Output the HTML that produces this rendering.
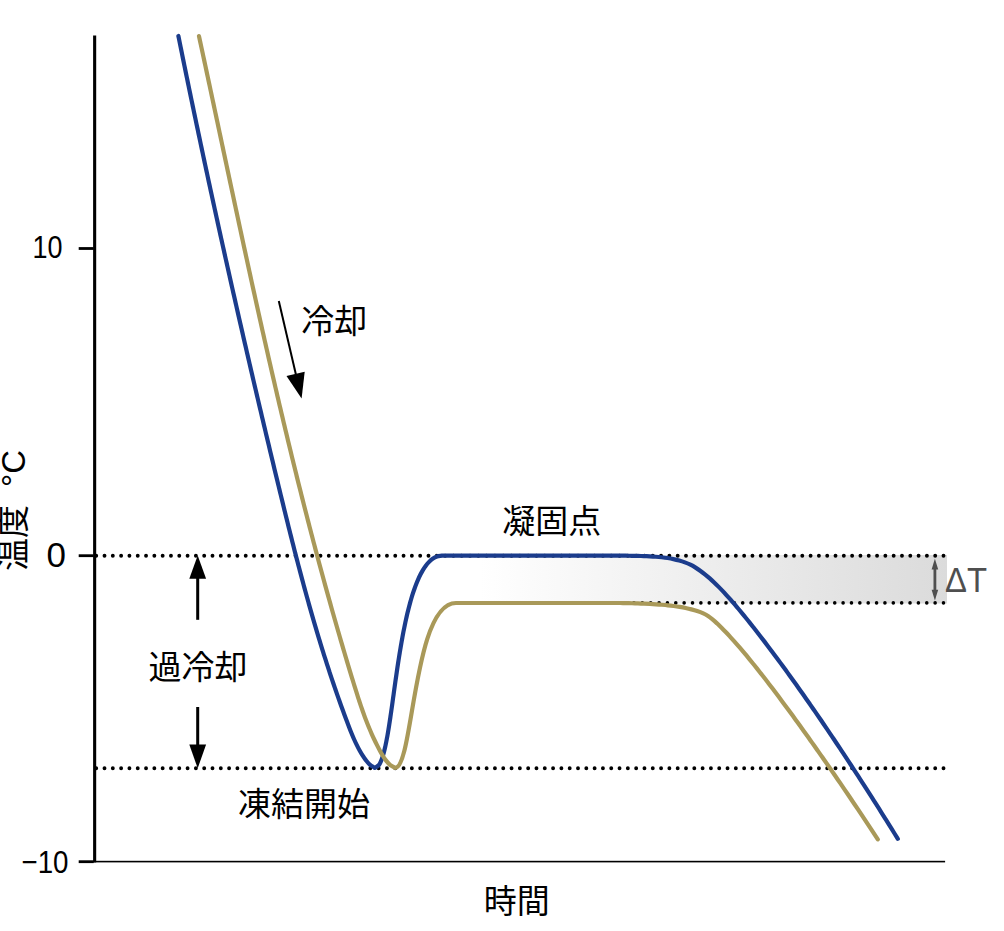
<!DOCTYPE html>
<html lang="ja"><head><meta charset="utf-8"><title>過冷却 冷却曲線</title>
<style>
html,body{margin:0;padding:0;background:#fff;}
body{width:1004px;height:931px;overflow:hidden;font-family:"Liberation Sans",sans-serif;}
svg{display:block}
.tk{font-family:"Liberation Sans","Noto Sans CJK JP",sans-serif;font-size:33px;fill:#000}
</style></head><body>
<svg width="1004" height="931" viewBox="0 0 1004 931">
<defs><linearGradient id="gg" x1="0" x2="1" y1="0" y2="0"><stop offset="0" stop-color="#ffffff"/><stop offset="1" stop-color="#dbdbdb"/></linearGradient></defs>
<rect width="1004" height="931" fill="#fff"/>

<rect x="480" y="555" width="467" height="48.5" fill="url(#gg)"/>
<path d="M96.2 555.7H944.5" stroke="#000" stroke-width="3.9" stroke-linecap="round" stroke-dasharray="0 8.307" fill="none"/>
<path d="M96.2 768.2H944.5" stroke="#000" stroke-width="3.9" stroke-linecap="round" stroke-dasharray="0 8.307" fill="none"/>
<path d="M943.5 602.9H470" stroke="#000" stroke-width="3.6" stroke-linecap="round" stroke-dasharray="0 8.366" fill="none"/>
<rect x="93.1" y="35.5" width="3.1" height="826.9" fill="#000"/>
<rect x="93.1" y="860.8" width="852" height="1.6" fill="#000"/>
<rect x="78.7" y="247.1" width="15" height="2.8" fill="#000"/>
<rect x="78.7" y="554.3" width="15" height="2.8" fill="#000"/>
<rect x="78.7" y="860.3" width="15" height="2.8" fill="#000"/>
<path d="M178.39 35.96C178.79 37.92 179.18 39.87 179.58 41.83C179.97 43.79 180.37 45.75 180.77 47.71C181.16 49.67 181.56 51.63 181.96 53.59C182.36 55.55 182.76 57.51 183.15 59.46C183.55 61.42 183.95 63.38 184.35 65.34C184.75 67.3 185.15 69.26 185.56 71.22C185.96 73.17 186.36 75.13 186.76 77.09C187.16 79.05 187.57 81.01 187.97 82.96C188.37 84.92 188.78 86.88 189.18 88.84C189.59 90.79 189.99 92.75 190.4 94.71C190.8 96.67 191.21 98.62 191.62 100.58C192.02 102.54 192.43 104.49 192.84 106.45C193.25 108.41 193.65 110.36 194.06 112.32C194.47 114.28 194.88 116.23 195.29 118.19C195.7 120.15 196.11 122.1 196.52 124.06C196.93 126.01 197.35 127.97 197.76 129.93C198.17 131.88 198.58 133.84 199 135.79C199.41 137.75 199.82 139.71 200.24 141.66C200.65 143.62 201.07 145.57 201.48 147.53C201.9 149.48 202.31 151.44 202.73 153.39C203.15 155.35 203.56 157.3 203.98 159.26C204.4 161.21 204.81 163.17 205.23 165.12C205.65 167.08 206.07 169.03 206.49 170.98C206.91 172.94 207.33 174.89 207.75 176.85C208.17 178.8 208.59 180.75 209.01 182.71C209.44 184.66 209.86 186.62 210.28 188.57C210.7 190.52 211.13 192.48 211.55 194.43C211.97 196.38 212.4 198.34 212.82 200.29C213.25 202.24 213.67 204.2 214.1 206.15C214.52 208.1 214.95 210.06 215.38 212.01C215.8 213.96 216.23 215.91 216.66 217.87C217.09 219.82 217.51 221.77 217.94 223.72C218.37 225.68 218.8 227.63 219.23 229.58C219.66 231.53 220.09 233.49 220.52 235.44C220.95 237.39 221.38 239.34 221.81 241.29C222.25 243.24 222.68 245.2 223.11 247.15C223.54 249.1 223.98 251.05 224.41 253C224.85 254.95 225.28 256.9 225.71 258.85C226.15 260.81 226.58 262.76 227.02 264.71C227.46 266.66 227.89 268.61 228.33 270.56C228.77 272.51 229.2 274.46 229.64 276.41C230.08 278.36 230.52 280.31 230.95 282.26C231.39 284.21 231.83 286.16 232.27 288.11C232.71 290.06 233.15 292.01 233.59 293.96C234.03 295.91 234.47 297.86 234.92 299.81C235.36 301.76 235.8 303.71 236.24 305.66C236.68 307.61 237.13 309.56 237.57 311.51C238.01 313.45 238.46 315.4 238.9 317.35C239.35 319.3 239.79 321.25 240.24 323.2C240.68 325.15 241.13 327.1 241.58 329.04C242.02 330.99 242.47 332.94 242.92 334.89C243.36 336.84 243.81 338.78 244.26 340.73C244.71 342.68 245.16 344.63 245.61 346.58C246.05 348.52 246.5 350.47 246.95 352.42C247.4 354.37 247.86 356.31 248.31 358.26C248.76 360.21 249.21 362.16 249.66 364.1C250.11 366.05 250.57 368 251.02 369.94C251.47 371.89 251.92 373.84 252.38 375.78C252.83 377.73 253.29 379.68 253.74 381.62C254.2 383.57 254.65 385.52 255.11 387.46C255.56 389.41 256.02 391.36 256.47 393.3C256.93 395.25 257.39 397.19 257.85 399.14C258.3 401.08 258.76 403.03 259.22 404.98C259.68 406.92 260.14 408.87 260.6 410.81C261.05 412.76 261.51 414.7 261.97 416.65C262.43 418.59 262.9 420.54 263.36 422.48C263.82 424.43 264.28 426.37 264.74 428.32C265.2 430.26 265.66 432.21 266.13 434.15C266.59 436.1 267.05 438.04 267.52 439.99C267.98 441.93 268.45 443.87 268.91 445.82C269.37 447.76 269.84 449.71 270.3 451.65C270.77 453.59 271.24 455.54 271.7 457.48C272.17 459.43 272.63 461.37 273.1 463.31C273.57 465.26 274.04 467.2 274.5 469.14C274.97 471.09 275.44 473.03 275.91 474.97C276.38 476.92 276.85 478.86 277.32 480.8C277.79 482.74 278.26 484.69 278.73 486.63C279.2 488.57 279.67 490.52 280.14 492.46C280.61 494.4 281.09 496.34 281.56 498.28C282.03 500.23 282.51 502.17 282.98 504.11C283.46 506.05 283.93 507.99 284.41 509.93C284.89 511.87 285.37 513.82 285.84 515.76C286.32 517.7 286.8 519.64 287.29 521.58C287.77 523.52 288.25 525.46 288.73 527.4C289.22 529.34 289.7 531.27 290.19 533.21C290.68 535.15 291.17 537.09 291.66 539.03C292.15 540.97 292.64 542.9 293.13 544.84C293.63 546.78 294.12 548.71 294.62 550.65C295.11 552.59 295.61 554.52 296.11 556.46C296.61 558.39 297.12 560.33 297.62 562.26C298.13 564.19 298.63 566.13 299.14 568.06C299.65 569.99 300.16 571.93 300.68 573.86C301.19 575.79 301.7 577.72 302.22 579.65C302.74 581.58 303.26 583.51 303.78 585.44C304.31 587.37 304.83 589.3 305.36 591.23C305.89 593.15 306.42 595.08 306.95 597.01C307.49 598.93 308.02 600.86 308.56 602.79C309.1 604.71 309.64 606.63 310.19 608.56C310.73 610.48 311.28 612.4 311.83 614.32C312.38 616.24 312.94 618.17 313.5 620.09C314.05 622 314.61 623.92 315.18 625.84C315.74 627.76 316.31 629.68 316.88 631.59C317.45 633.51 318.03 635.42 318.6 637.33C319.18 639.25 319.76 641.16 320.35 643.07C320.93 644.98 321.52 646.89 322.11 648.8C322.71 650.71 323.3 652.62 323.9 654.53C324.5 656.43 325.11 658.34 325.71 660.24C326.32 662.15 326.93 664.05 327.55 665.95C328.17 667.85 328.79 669.75 329.41 671.65C330.03 673.55 330.66 675.45 331.3 677.34C331.93 679.24 332.57 681.13 333.21 683.03C333.85 684.92 334.5 686.81 335.15 688.7C335.8 690.59 336.45 692.48 337.11 694.37C337.77 696.25 338.44 698.14 339.11 700.02C339.77 701.91 340.45 703.79 341.13 705.67C341.81 707.55 342.49 709.43 343.18 711.3C343.87 713.18 344.56 715.05 345.26 716.93C345.96 718.8 346.66 720.67 347.37 722.54C348.08 724.41 348.79 726.28 349.52 728.14C350.24 730 350.97 731.86 351.73 733.71C352.49 735.56 353.26 737.41 354.07 739.23C354.88 741.06 355.71 742.88 356.6 744.67C357.48 746.47 358.39 748.25 359.36 749.99C360.33 751.74 361.33 753.48 362.4 755.16C363.48 756.84 364.59 758.51 365.83 760.08C367.06 761.65 368.31 763.26 369.79 764.57C371.27 765.87 373.06 766.79 374.7 767.9C376.05 767.02 377.69 766.42 378.76 765.26C379.84 764.08 380.45 762.37 381.12 760.84C381.8 759.32 382.3 757.71 382.81 756.11C383.32 754.51 383.75 752.89 384.16 751.27C384.58 749.65 384.95 748.01 385.32 746.38C385.68 744.74 386.01 743.1 386.34 741.46C386.66 739.82 386.97 738.17 387.27 736.52C387.57 734.87 387.85 733.22 388.13 731.57C388.41 729.92 388.67 728.26 388.94 726.61C389.2 724.95 389.46 723.3 389.71 721.64C389.96 719.99 390.21 718.33 390.45 716.67C390.7 715.01 390.93 713.36 391.17 711.7C391.41 710.04 391.65 708.38 391.88 706.72C392.11 705.06 392.35 703.4 392.58 701.74C392.81 700.09 393.04 698.43 393.27 696.77C393.5 695.11 393.73 693.45 393.96 691.79C394.19 690.13 394.43 688.47 394.66 686.81C394.89 685.15 395.12 683.49 395.36 681.83C395.59 680.18 395.83 678.52 396.07 676.86C396.31 675.2 396.55 673.54 396.79 671.89C397.03 670.23 397.28 668.57 397.52 666.91C397.77 665.26 398.02 663.6 398.28 661.94C398.53 660.29 398.79 658.63 399.05 656.98C399.32 655.32 399.58 653.67 399.85 652.02C400.12 650.36 400.4 648.71 400.68 647.06C400.96 645.41 401.25 643.76 401.54 642.11C401.83 640.46 402.13 638.81 402.43 637.16C402.73 635.51 403.04 633.87 403.36 632.22C403.68 630.58 404.01 628.94 404.34 627.29C404.67 625.65 405.01 624.01 405.36 622.37C405.71 620.74 406.07 619.1 406.44 617.47C406.81 615.83 407.19 614.2 407.59 612.57C407.98 610.94 408.38 609.32 408.8 607.69C409.22 606.07 409.65 604.45 410.09 602.84C410.54 601.22 411 599.61 411.48 598.01C411.96 596.4 412.45 594.8 412.97 593.21C413.49 591.61 414.02 590.03 414.59 588.45C415.15 586.87 415.73 585.3 416.35 583.74C416.97 582.19 417.61 580.64 418.29 579.11C418.97 577.58 419.68 576.06 420.44 574.57C421.21 573.08 422 571.6 422.87 570.17C423.73 568.73 424.64 567.31 425.63 565.97C426.63 564.63 427.68 563.31 428.85 562.11C430.01 560.92 431.26 559.75 432.63 558.82C434 557.88 435.51 557.02 437.07 556.49C438.63 555.96 440.36 555.93 442 555.65L620 555.65C621.99 555.67 623.97 555.69 625.96 555.71C627.95 555.74 629.93 555.77 631.92 555.8C633.9 555.84 635.89 555.88 637.88 555.93C639.86 555.98 641.85 556.04 643.83 556.11C645.82 556.18 647.8 556.27 649.79 556.37C651.77 556.48 653.75 556.6 655.73 556.75C657.71 556.9 659.69 557.07 661.67 557.28C663.64 557.5 665.62 557.73 667.58 558.03C669.54 558.33 671.5 558.67 673.45 559.09C675.39 559.5 677.32 559.97 679.23 560.52C681.14 561.06 683.03 561.68 684.89 562.38C686.75 563.07 688.6 563.83 690.38 564.7C692.16 565.57 693.89 566.55 695.58 567.59C697.27 568.63 698.9 569.77 700.51 570.93C702.12 572.1 703.7 573.32 705.24 574.56C706.78 575.81 708.29 577.11 709.78 578.42C711.27 579.74 712.73 581.09 714.17 582.46C715.61 583.83 717.02 585.22 718.42 586.63C719.82 588.04 721.2 589.47 722.56 590.92C723.93 592.36 725.28 593.82 726.61 595.29C727.95 596.75 729.27 598.24 730.59 599.73C731.9 601.22 733.21 602.72 734.5 604.22C735.8 605.73 737.08 607.24 738.36 608.76C739.64 610.28 740.91 611.81 742.17 613.35C743.43 614.88 744.69 616.42 745.94 617.96C747.19 619.5 748.44 621.05 749.68 622.6C750.92 624.15 752.15 625.71 753.38 627.27C754.61 628.83 755.84 630.39 757.06 631.96C758.28 633.53 759.5 635.1 760.71 636.67C761.92 638.24 763.13 639.82 764.34 641.4C765.54 642.98 766.74 644.56 767.94 646.15C769.14 647.73 770.33 649.32 771.53 650.91C772.72 652.5 773.91 654.09 775.09 655.68C776.28 657.28 777.46 658.87 778.64 660.47C779.82 662.07 780.99 663.67 782.17 665.27C783.34 666.87 784.51 668.48 785.68 670.09C786.85 671.69 788.02 673.3 789.18 674.91C790.34 676.52 791.5 678.13 792.66 679.75C793.82 681.36 794.98 682.98 796.13 684.59C797.28 686.21 798.43 687.83 799.58 689.45C800.73 691.07 801.88 692.69 803.02 694.32C804.16 695.94 805.31 697.57 806.44 699.2C807.58 700.82 808.72 702.45 809.86 704.08C810.99 705.71 812.12 707.34 813.26 708.98C814.39 710.61 815.51 712.25 816.64 713.88C817.77 715.52 818.89 717.16 820.01 718.79C821.14 720.43 822.26 722.07 823.38 723.72C824.49 725.36 825.61 727 826.73 728.64C827.84 730.29 828.95 731.93 830.06 733.58C831.17 735.23 832.28 736.88 833.39 738.53C834.5 740.18 835.6 741.83 836.71 743.48C837.81 745.13 838.91 746.78 840.01 748.44C841.11 750.09 842.21 751.75 843.3 753.4C844.4 755.06 845.49 756.72 846.59 758.38C847.68 760.04 848.77 761.7 849.86 763.36C850.95 765.02 852.04 766.68 853.12 768.35C854.21 770.01 855.29 771.67 856.37 773.34C857.46 775.01 858.54 776.67 859.62 778.34C860.69 780.01 861.77 781.68 862.85 783.35C863.92 785.02 865 786.69 866.07 788.36C867.14 790.03 868.21 791.7 869.28 793.38C870.35 795.05 871.42 796.73 872.49 798.4C873.55 800.08 874.62 801.76 875.68 803.43C876.75 805.11 877.81 806.79 878.87 808.47C879.93 810.15 880.99 811.83 882.05 813.51C883.1 815.19 884.16 816.88 885.21 818.56C886.27 820.24 887.32 821.93 888.37 823.61C889.42 825.3 890.47 826.99 891.52 828.67C892.57 830.36 893.62 832.05 894.67 833.74C895.71 835.42 896.76 837.12 897.8 838.81" fill="none" stroke="#1b3c8c" stroke-width="4.2" stroke-linecap="round" stroke-linejoin="round"/>
<path d="M198.98 36.09C199.4 38.05 199.82 40 200.24 41.95C200.66 43.91 201.09 45.86 201.51 47.82C201.93 49.77 202.35 51.72 202.76 53.68C203.18 55.63 203.6 57.59 204.02 59.54C204.44 61.5 204.86 63.45 205.28 65.41C205.7 67.36 206.12 69.31 206.53 71.27C206.95 73.22 207.37 75.18 207.79 77.13C208.2 79.09 208.62 81.04 209.04 83C209.46 84.95 209.87 86.91 210.29 88.86C210.71 90.82 211.13 92.77 211.54 94.73C211.96 96.68 212.38 98.64 212.79 100.59C213.21 102.55 213.62 104.5 214.04 106.46C214.46 108.41 214.87 110.37 215.29 112.32C215.71 114.28 216.12 116.23 216.54 118.19C216.95 120.14 217.37 122.1 217.79 124.05C218.2 126.01 218.62 127.96 219.03 129.92C219.45 131.87 219.87 133.83 220.28 135.78C220.7 137.74 221.11 139.69 221.53 141.65C221.94 143.6 222.36 145.56 222.78 147.51C223.19 149.47 223.61 151.42 224.02 153.38C224.44 155.33 224.86 157.29 225.27 159.24C225.69 161.2 226.11 163.15 226.52 165.11C226.94 167.06 227.36 169.02 227.77 170.97C228.19 172.93 228.61 174.88 229.02 176.84C229.44 178.79 229.86 180.75 230.27 182.7C230.69 184.66 231.11 186.61 231.53 188.57C231.94 190.52 232.36 192.48 232.78 194.43C233.2 196.39 233.61 198.34 234.03 200.29C234.45 202.25 234.87 204.2 235.29 206.16C235.71 208.11 236.13 210.07 236.55 212.02C236.96 213.98 237.38 215.93 237.8 217.88C238.22 219.84 238.64 221.79 239.06 223.75C239.48 225.7 239.91 227.65 240.33 229.61C240.75 231.56 241.17 233.52 241.59 235.47C242.01 237.42 242.43 239.38 242.86 241.33C243.28 243.29 243.7 245.24 244.12 247.19C244.55 249.15 244.97 251.1 245.39 253.05C245.82 255.01 246.24 256.96 246.67 258.91C247.09 260.87 247.52 262.82 247.94 264.77C248.37 266.73 248.79 268.68 249.22 270.63C249.65 272.58 250.07 274.54 250.5 276.49C250.93 278.44 251.36 280.39 251.78 282.35C252.21 284.3 252.64 286.25 253.07 288.2C253.5 290.16 253.93 292.11 254.36 294.06C254.79 296.01 255.22 297.96 255.65 299.92C256.08 301.87 256.51 303.82 256.95 305.77C257.38 307.72 257.81 309.67 258.25 311.63C258.68 313.58 259.11 315.53 259.55 317.48C259.98 319.43 260.42 321.38 260.85 323.33C261.29 325.28 261.73 327.23 262.16 329.18C262.6 331.13 263.04 333.08 263.48 335.03C263.92 336.98 264.36 338.93 264.79 340.88C265.23 342.83 265.68 344.78 266.12 346.73C266.56 348.68 267 350.63 267.44 352.58C267.88 354.53 268.33 356.48 268.77 358.43C269.22 360.38 269.66 362.33 270.11 364.27C270.55 366.22 271 368.17 271.45 370.12C271.89 372.07 272.34 374.02 272.79 375.96C273.24 377.91 273.69 379.86 274.14 381.81C274.59 383.75 275.04 385.7 275.49 387.65C275.94 389.59 276.4 391.54 276.85 393.49C277.3 395.44 277.76 397.38 278.21 399.33C278.67 401.27 279.12 403.22 279.58 405.17C280.04 407.11 280.5 409.06 280.96 411C281.41 412.95 281.87 414.89 282.34 416.84C282.8 418.78 283.26 420.73 283.72 422.67C284.18 424.62 284.65 426.56 285.11 428.51C285.58 430.45 286.04 432.39 286.51 434.34C286.97 436.28 287.44 438.23 287.91 440.17C288.38 442.11 288.85 444.05 289.32 446C289.79 447.94 290.26 449.88 290.73 451.82C291.21 453.77 291.68 455.71 292.15 457.65C292.63 459.59 293.1 461.53 293.58 463.47C294.06 465.42 294.53 467.36 295.01 469.3C295.49 471.24 295.97 473.18 296.45 475.12C296.94 477.06 297.42 479 297.9 480.94C298.38 482.88 298.87 484.82 299.35 486.75C299.84 488.69 300.33 490.63 300.82 492.57C301.3 494.51 301.79 496.45 302.28 498.38C302.77 500.32 303.27 502.26 303.76 504.2C304.25 506.13 304.74 508.07 305.24 510.01C305.74 511.94 306.23 513.88 306.73 515.82C307.23 517.75 307.73 519.69 308.23 521.62C308.73 523.56 309.23 525.49 309.73 527.43C310.23 529.36 310.74 531.3 311.24 533.23C311.75 535.16 312.26 537.1 312.76 539.03C313.27 540.96 313.78 542.9 314.29 544.83C314.8 546.76 315.31 548.69 315.83 550.63C316.34 552.56 316.86 554.49 317.37 556.42C317.89 558.35 318.41 560.28 318.92 562.21C319.44 564.14 319.96 566.07 320.49 568C321.01 569.93 321.53 571.86 322.06 573.79C322.58 575.72 323.11 577.65 323.63 579.57C324.16 581.5 324.69 583.43 325.22 585.36C325.75 587.28 326.28 589.21 326.82 591.14C327.35 593.06 327.88 594.99 328.42 596.92C328.96 598.84 329.5 600.77 330.04 602.69C330.57 604.62 331.12 606.54 331.66 608.46C332.2 610.39 332.74 612.31 333.29 614.23C333.84 616.16 334.38 618.08 334.93 620C335.48 621.92 336.03 623.84 336.58 625.77C337.14 627.69 337.69 629.61 338.24 631.53C338.8 633.45 339.36 635.37 339.91 637.29C340.47 639.21 341.03 641.12 341.6 643.04C342.16 644.96 342.72 646.88 343.29 648.8C343.85 650.71 344.42 652.63 344.99 654.55C345.55 656.46 346.12 658.38 346.7 660.29C347.27 662.21 347.84 664.12 348.42 666.04C348.99 667.95 349.57 669.87 350.15 671.78C350.73 673.69 351.31 675.6 351.89 677.52C352.47 679.43 353.06 681.34 353.64 683.25C354.23 685.16 354.82 687.07 355.41 688.98C356.01 690.89 356.61 692.8 357.22 694.7C357.82 696.6 358.44 698.51 359.06 700.4C359.69 702.3 360.32 704.2 360.97 706.09C361.61 707.98 362.27 709.87 362.94 711.75C363.61 713.64 364.29 715.52 364.99 717.39C365.69 719.26 366.41 721.13 367.14 722.99C367.87 724.85 368.62 726.7 369.39 728.54C370.16 730.39 370.95 732.23 371.76 734.05C372.57 735.88 373.4 737.7 374.26 739.5C375.11 741.31 375.99 743.11 376.89 744.89C377.79 746.67 378.72 748.45 379.67 750.2C380.62 751.96 381.57 753.73 382.61 755.43C383.65 757.13 384.69 758.86 385.92 760.42C387.15 761.99 388.47 763.56 390 764.81C391.53 766.05 393.4 766.87 395.1 767.9C413.51 767.9 413.03 603 456 603L620 603C622 603.04 623.99 603.07 625.99 603.12C627.98 603.16 629.98 603.21 631.97 603.26C633.96 603.32 635.96 603.38 637.95 603.44C639.95 603.51 641.94 603.58 643.94 603.67C645.93 603.75 647.92 603.84 649.92 603.95C651.91 604.06 653.9 604.18 655.89 604.31C657.88 604.45 659.87 604.59 661.86 604.76C663.85 604.93 665.84 605.1 667.82 605.31C669.81 605.51 671.79 605.74 673.77 606.01C675.75 606.27 677.72 606.56 679.69 606.89C681.65 607.23 683.62 607.59 685.57 608.01C687.52 608.42 689.47 608.87 691.4 609.38C693.32 609.89 695.25 610.43 697.14 611.06C699.03 611.68 700.94 612.33 702.75 613.14C704.57 613.95 706.36 614.86 708.04 615.94C709.71 617.01 711.25 618.3 712.79 619.57C714.32 620.85 715.77 622.22 717.23 623.59C718.68 624.95 720.11 626.35 721.52 627.76C722.93 629.17 724.32 630.6 725.71 632.04C727.09 633.48 728.45 634.94 729.81 636.4C731.16 637.87 732.5 639.35 733.83 640.83C735.16 642.32 736.48 643.82 737.79 645.32C739.1 646.83 740.4 648.34 741.7 649.86C742.99 651.38 744.27 652.91 745.55 654.44C746.83 655.97 748.1 657.51 749.36 659.05C750.63 660.6 751.89 662.15 753.14 663.7C754.39 665.26 755.63 666.81 756.88 668.38C758.12 669.94 759.35 671.51 760.58 673.08C761.82 674.65 763.04 676.22 764.27 677.8C765.49 679.37 766.71 680.95 767.92 682.54C769.14 684.12 770.35 685.71 771.56 687.29C772.77 688.88 773.97 690.47 775.17 692.07C776.37 693.66 777.57 695.25 778.77 696.85C779.96 698.45 781.16 700.05 782.35 701.65C783.54 703.25 784.73 704.86 785.91 706.46C787.1 708.07 788.28 709.67 789.46 711.28C790.64 712.89 791.82 714.5 792.99 716.11C794.17 717.73 795.34 719.34 796.51 720.96C797.69 722.57 798.86 724.19 800.02 725.81C801.19 727.43 802.35 729.05 803.52 730.67C804.68 732.29 805.84 733.91 807 735.54C808.16 737.16 809.32 738.79 810.47 740.41C811.63 742.04 812.78 743.67 813.94 745.3C815.09 746.93 816.24 748.56 817.39 750.19C818.54 751.82 819.68 753.45 820.83 755.09C821.97 756.72 823.12 758.36 824.26 759.99C825.4 761.63 826.54 763.27 827.68 764.91C828.81 766.55 829.95 768.19 831.09 769.83C832.22 771.47 833.35 773.11 834.48 774.76C835.62 776.4 836.75 778.05 837.87 779.69C839 781.34 840.13 782.98 841.25 784.63C842.38 786.28 843.5 787.93 844.62 789.58C845.74 791.23 846.86 792.88 847.98 794.54C849.1 796.19 850.22 797.84 851.33 799.5C852.45 801.15 853.56 802.81 854.67 804.46C855.79 806.12 856.9 807.78 858.01 809.44C859.12 811.1 860.22 812.76 861.33 814.42C862.43 816.08 863.54 817.74 864.64 819.4C865.74 821.07 866.85 822.73 867.94 824.4C869.04 826.06 870.14 827.73 871.24 829.4C872.34 831.06 873.43 832.73 874.52 834.4C875.62 836.07 876.71 837.74 877.8 839.41" fill="none" stroke="#a99959" stroke-width="4.2" stroke-linecap="round" stroke-linejoin="round"/>
<path d="M278.8 300.9L296.5 377" stroke="#000" stroke-width="2" fill="none"/>
<path d="M301.6 398.6L286.5 376L304.7 371.7Z" fill="#000"/>
<rect x="196.2" y="577" width="3" height="42.8" fill="#000"/><path d="M197.7 555.5L189.3 578.8H206.1Z" fill="#000"/>
<rect x="196.2" y="707" width="3" height="39" fill="#000"/><path d="M197.7 768.3L189.3 744.5H206.1Z" fill="#000"/>
<g fill="#4f4f4f"><rect x="933.5" y="566" width="2.8" height="27"/><path d="M934.9 558.8L931.6 569.4H938.2Z"/><path d="M934.9 600.4L931.6 589.8H938.2Z"/></g>
<text x="945" y="592" textLength="42" lengthAdjust="spacingAndGlyphs" style="font-family:'Liberation Sans',sans-serif;font-size:35px;fill:#4f4f4f">ΔT</text>
<text class="tk" x="62.5" y="258.3" text-anchor="end" textLength="30" lengthAdjust="spacingAndGlyphs" style="font-size:32px">10</text>
<text class="tk" x="66" y="567.3" text-anchor="end" style="font-size:35px">0</text>
<text class="tk" x="68.5" y="873.3" text-anchor="end" textLength="47" lengthAdjust="spacingAndGlyphs" style="font-size:32px">−10</text>
<text class="tk" x="301.2" y="333.13">冷却</text>
<text class="tk" x="502.3" y="532.67">凝固点</text>
<text class="tk" x="148.4" y="678.97">過冷却</text>
<text class="tk" x="237.9" y="815.95">凍結開始</text>
<text class="tk" x="483.8" y="912.9">時間</text>
<g transform="rotate(-90)">
<text class="tk" x="-487" y="24.7">°C</text>
<text class="tk" x="-571" y="25">温度</text></g>
</svg></body></html>
